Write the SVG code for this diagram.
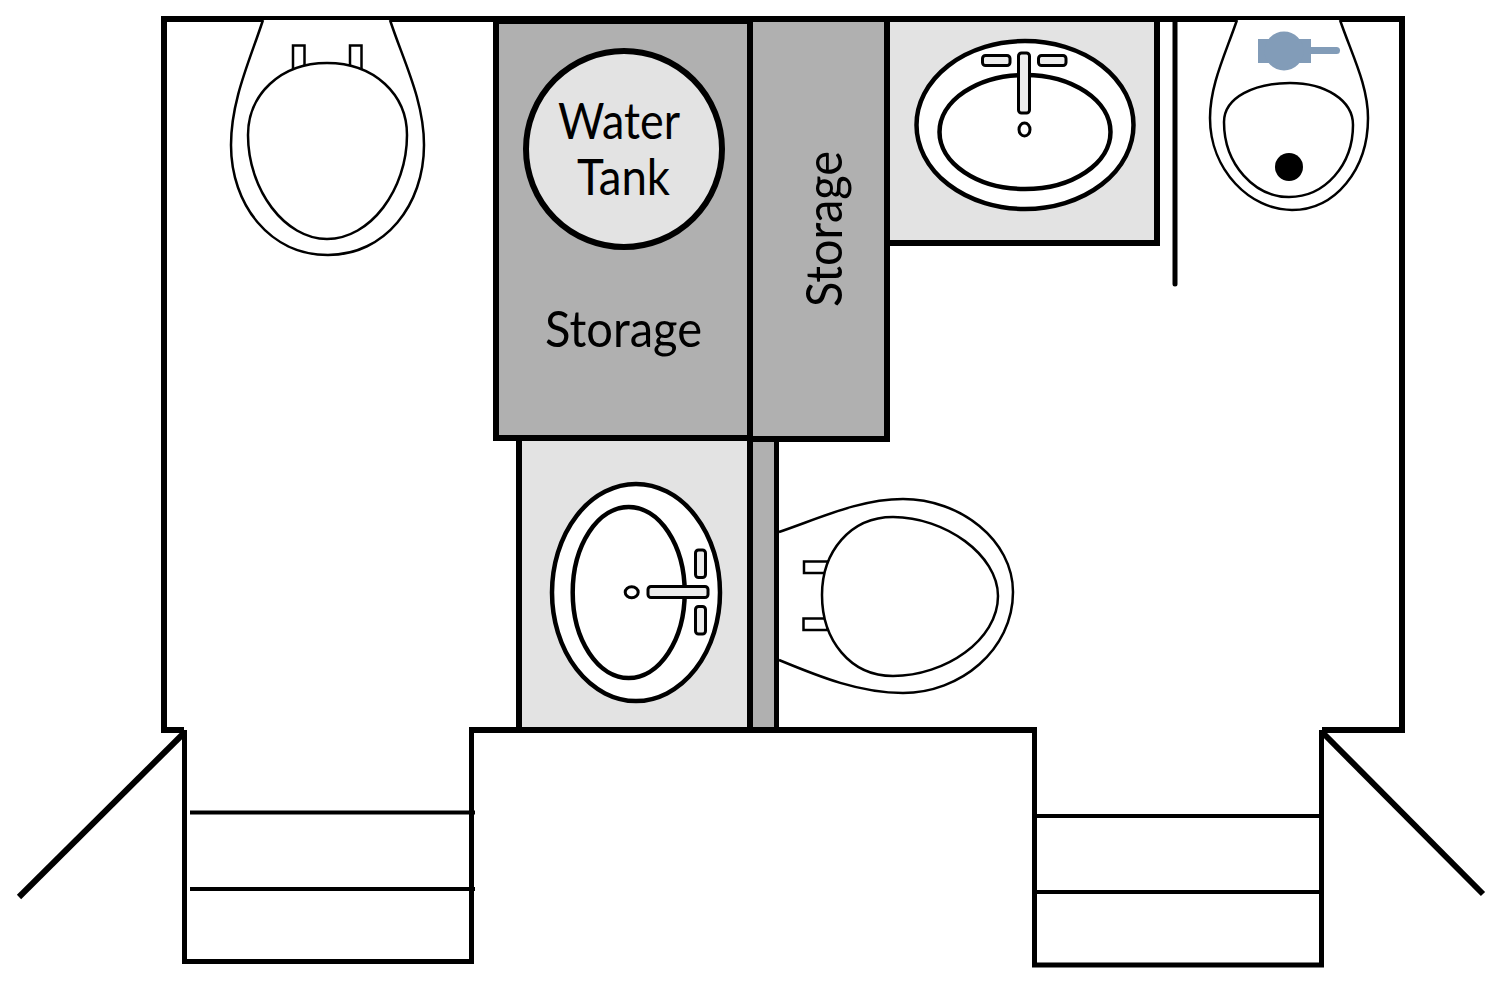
<svg xmlns="http://www.w3.org/2000/svg" width="1500" height="990" viewBox="0 0 1500 990">
<style>
.wall{fill:none;stroke:#000;stroke-width:6}
.thin{fill:none;stroke:#000;stroke-width:5}
.step{fill:none;stroke:#000;stroke-width:4}
.store{fill:#b0b0b0;stroke:#000;stroke-width:6}
.basin{fill:#e3e3e3;stroke:#000;stroke-width:6}
.fix{fill:#fff;stroke:#000;stroke-width:2.5}
.sink{fill:#fff;stroke:#000;stroke-width:4.5}
.tap{fill:#ececec;stroke:#000;stroke-width:3}
text{font-family:"Lato","Open Sans",sans-serif;font-weight:400;font-size:50px;fill:#000}
</style>
<rect width="1500" height="990" fill="#fff"/>
<g id="strip"><rect x="750" y="439" width="26.500" height="291" fill="#b0b0b0"/><path class="thin" d="M776.500 439V730"/></g>
<g id="storage-left"><rect class="store" x="496" y="21" width="254" height="417"/></g>
<g id="storage-right"><rect class="store" x="750" y="19" width="137" height="420"/></g>
<g id="water-tank">
<circle cx="624" cy="149" r="98" class="basin"/>
<text x="619" y="139" text-anchor="middle" textLength="122" lengthAdjust="spacingAndGlyphs">Water</text>
<text x="623.500" y="195" text-anchor="middle" textLength="93" lengthAdjust="spacingAndGlyphs">Tank</text>
</g>
<text id="storage-label-left" x="623.500" y="347" text-anchor="middle" textLength="157" lengthAdjust="spacingAndGlyphs">Storage</text>
<text id="storage-label-right" transform="translate(842 229) rotate(-90)" text-anchor="middle" textLength="156" lengthAdjust="spacingAndGlyphs">Storage</text>
<g id="sink-top">
<path class="basin" d="M887 19H1157V243H887Z"/>
<ellipse class="sink" cx="1025" cy="125" rx="108.500" ry="84"/>
<ellipse class="sink" cx="1025" cy="132" rx="85.500" ry="57"/>
<rect class="tap" x="1018.500" y="53" width="11" height="60" rx="3"/>
<rect class="tap" x="982.500" y="55.500" width="27.500" height="10" rx="3"/>
<rect class="tap" x="1038.500" y="55.500" width="27.500" height="10" rx="3"/>
<ellipse class="tap" style="fill:#fff" cx="1024.500" cy="129.500" rx="5.500" ry="6.500"/>
</g>
<g id="sink-bottom">
<path class="basin" d="M519 438H750V730H519Z"/>
<ellipse class="sink" cx="636" cy="592.500" rx="84" ry="108.500"/>
<ellipse class="sink" cx="628.700" cy="592.500" rx="56" ry="85.500"/>
<rect class="tap" x="648" y="586.500" width="60" height="11" rx="3"/>
<rect class="tap" x="695.500" y="550" width="10" height="27.500" rx="3"/>
<rect class="tap" x="695.500" y="606.500" width="10" height="27.500" rx="3"/>
<ellipse class="tap" style="fill:#fff" cx="631.700" cy="592.300" rx="6.500" ry="5.500"/>
</g>
<g id="shell">
<path class="wall" d="M184 730H164V19H1402V730H1322"/>
<path class="wall" d="M469 730H1037"/>
</g>
<g id="toilet-left">
<path class="fix" d="M263 20C250 60 231 100 231 145C231 205 270 255 328 255C385 255 424 205 424 145C424 100 403 60 390 20"/>
<rect class="fix" x="293" y="45.500" width="11.500" height="24"/>
<rect class="fix" x="350" y="45.500" width="11.500" height="24"/>
<path class="fix" d="M327 63C375 63 407 95 407 135C407 190 370 239 327 239C285 239 248 190 248 135C248 95 280 63 327 63Z"/>
</g>
<g id="toilet-right">
<path class="fix" d="M779 532C820 518 860 499 903 499C960 499 1013 540 1013 592C1013 650 960 693 903 693C860 693 820 677 779 660"/>
<rect class="fix" x="804" y="561.500" width="24" height="11.500"/>
<rect class="fix" x="803.500" y="618.500" width="24" height="11.500"/>
<path class="fix" d="M893 517C945 517 998 555 998 596C998 640 945 676 893 676C850 676 822 640 822 595C822 552 850 517 893 517Z"/>
</g>
<g id="urinal">
<path class="fix" d="M1237 20C1225 55 1210 85 1210 118C1210 170 1250 210 1292 210C1335 210 1368 170 1368 118C1368 85 1352 55 1340 20"/>
<path class="fix" d="M1290 83C1325 83 1353 100 1353 125C1353 165 1325 197 1289 197C1255 197 1224 165 1224 122C1224 97 1255 83 1290 83Z"/>
<circle cx="1289" cy="167" r="14" fill="#000"/>
<g fill="#829cb8">
<rect x="1258" y="39" width="53" height="24"/>
<circle cx="1284" cy="51" r="19.500"/>
<path d="M1311 50.500H1336.500" stroke="#829cb8" stroke-width="7" stroke-linecap="round"/>
</g>
</g>
<g id="partition"><path d="M1175 19V284" fill="none" stroke="#000" stroke-width="5" stroke-linecap="round"/></g>
<g id="door-left">
<path class="thin" d="M184.500 730V961.500H471.500V730"/>
<path class="step" d="M190 812.500H475M190 889H475"/>
<path class="wall" d="M184 733L19 897"/>
</g>
<g id="door-right">
<path class="thin" d="M1034.500 730V965H1321.500V730"/>
<path class="step" d="M1036 816H1320M1036 892H1320"/>
<path class="wall" d="M1322 732L1483 894"/>
</g>
</svg>
